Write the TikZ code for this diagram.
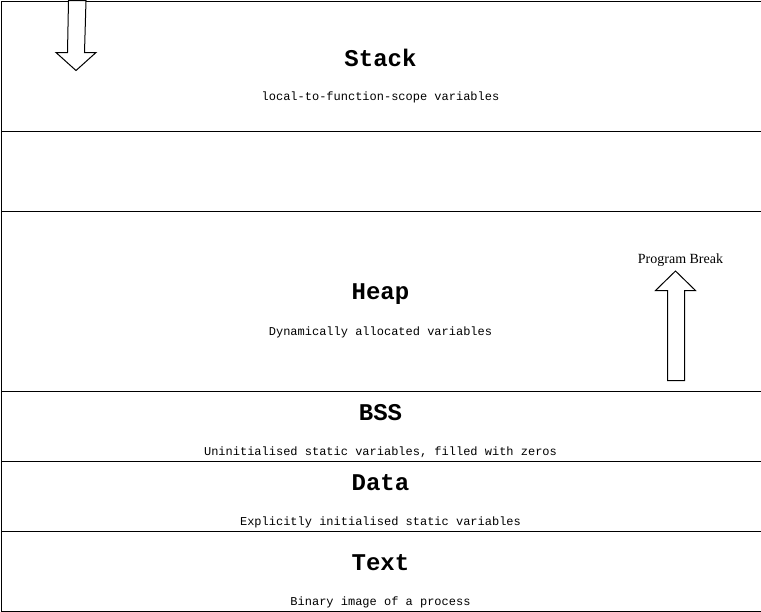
\documentclass[tikz,border=0pt]{standalone}
\usepackage{fontspec}
\setmonofont{Liberation Mono}
\newfontfamily\serifpb{Liberation Serif}
\begin{document}
\begin{tikzpicture}[x=1pt,y=-1pt,
  seg/.style={draw=black,line width=1pt,minimum width=760pt,inner sep=0pt,anchor=north west},
  ttl/.style={font=\ttfamily\bfseries\fontsize{24}{28}\selectfont,inner sep=0pt,anchor=center},
  sub/.style={font=\ttfamily\fontsize{12}{14}\selectfont,inner sep=0pt,anchor=center},
  blk/.style={draw=black,line width=1pt,fill=white,line join=miter}]
\useasboundingbox (0,0) rectangle (761,611);
\node[seg,minimum height=130pt] (stack) at (0.5,0.5) {};
\node[seg,minimum height=80pt] (gap) at (0.5,130.5) {};
\node[seg,minimum height=180pt] (heap) at (0.5,210.5) {};
\node[seg,minimum height=70pt] (bss) at (0.5,390.5) {};
\node[seg,minimum height=70pt] (data) at (0.5,460.5) {};
\node[seg,minimum height=80pt] (text) at (0.5,530.5) {};
\node[ttl] (stackT) at (380.5,58) {Stack};
\node[sub] (stackS) at (380.5,97) {local-to-function-scope variables};
\node[ttl] (heapT) at (380.5,294.5) {Heap};
\node[sub] (heapS) at (380.5,332) {Dynamically allocated variables};
\node[ttl] (bssT) at (380.5,413) {BSS};
\node[sub] (bssS) at (380.5,452) {Uninitialised static variables, filled with zeros};
\node[ttl] (dataT) at (380.5,483) {Data};
\node[sub] (dataS) at (380.5,522) {Explicitly initialised static variables};
\node[ttl] (textT) at (380.5,563) {Text};
\node[sub] (textS) at (380.5,602) {Binary image of a process};
\draw[blk] (68.5,0.5) -- (86,0.5) -- (84.5,52.5) -- (96,52.5) -- (76,70.5) -- (56,52.5) -- (67.5,52.5) -- cycle;
\draw[blk] (667.5,380.5) -- (667.5,290.5) -- (655.5,290.5) -- (675.5,271) -- (695.5,290.5) -- (684.5,290.5) -- (684.5,380.5) -- cycle;
\node[font=\serifpb\fontsize{14}{16}\selectfont,inner sep=0pt] (pb) at (680.5,260.5) {Program Break};
\end{tikzpicture}
\end{document}
